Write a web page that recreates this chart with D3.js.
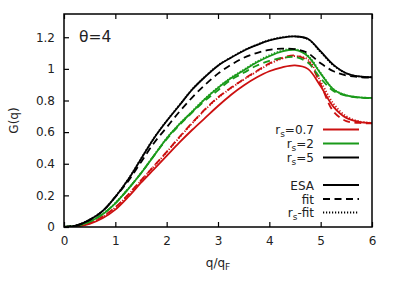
<!DOCTYPE html>
<html>
<head>
<meta charset="utf-8">
<script src="https://cdn.jsdelivr.net/npm/d3@7"></script>
<style>
  body { margin: 0; background: #fff; }
  text { font-family: "DejaVu Sans", sans-serif; fill: #222; }
</style>
</head>
<body>
<script>
var q = [0, 0.25, 0.5, 0.75, 1, 1.25, 1.5, 1.75, 2, 2.25, 2.5, 2.75, 3, 3.25, 3.5, 3.75, 4, 4.25, 4.5, 4.75, 5, 5.25, 5.5, 5.75, 6];

// rs = 5 (black)
var esa5   = [0, 0.01, 0.045, 0.1, 0.19, 0.3, 0.43, 0.56, 0.67, 0.77, 0.87, 0.95, 1.02, 1.07, 1.115, 1.15, 1.18, 1.198, 1.205, 1.19, 1.11, 1.025, 0.972, 0.952, 0.947];
var fit5   = [0, 0.01, 0.045, 0.1, 0.19, 0.29, 0.41, 0.53, 0.63, 0.73, 0.82, 0.9, 0.97, 1.025, 1.07, 1.1, 1.12, 1.128, 1.125, 1.1, 1.035, 0.985, 0.958, 0.948, 0.945];
var rsfit5 = [0, 0.011, 0.047, 0.102, 0.192, 0.302, 0.432, 0.562, 0.672, 0.772, 0.872, 0.952, 1.022, 1.072, 1.117, 1.152, 1.182, 1.2, 1.205, 1.188, 1.105, 1.022, 0.971, 0.952, 0.947];
// rs = 2 (green)
var esa2   = [0, 0.008, 0.033, 0.08, 0.15, 0.24, 0.34, 0.45, 0.56, 0.65, 0.73, 0.81, 0.88, 0.94, 0.99, 1.04, 1.08, 1.11, 1.12, 1.08, 0.97, 0.87, 0.832, 0.82, 0.816];
var fit2   = [0, 0.008, 0.033, 0.08, 0.15, 0.24, 0.34, 0.45, 0.555, 0.645, 0.725, 0.8, 0.865, 0.93, 0.975, 1.02, 1.05, 1.07, 1.075, 1.04, 0.94, 0.86, 0.83, 0.818, 0.815];
var rsfit2 = [0, 0.009, 0.035, 0.082, 0.152, 0.242, 0.342, 0.452, 0.562, 0.652, 0.733, 0.813, 0.883, 0.944, 0.995, 1.045, 1.086, 1.116, 1.125, 1.085, 0.975, 0.872, 0.833, 0.82, 0.816];
// rs = 0.7 (red)
var esa07   = [0, 0.004, 0.02, 0.055, 0.11, 0.19, 0.28, 0.365, 0.45, 0.535, 0.615, 0.69, 0.765, 0.835, 0.895, 0.945, 0.985, 1.01, 1.022, 1.0, 0.89, 0.76, 0.69, 0.665, 0.657];
var fit07   = [0, 0.005, 0.024, 0.065, 0.125, 0.205, 0.295, 0.385, 0.475, 0.57, 0.66, 0.745, 0.82, 0.88, 0.935, 0.985, 1.035, 1.07, 1.085, 1.05, 0.9, 0.73, 0.67, 0.658, 0.655];
var rsfit07 = [0, 0.005, 0.024, 0.064, 0.123, 0.203, 0.293, 0.383, 0.473, 0.567, 0.657, 0.742, 0.817, 0.877, 0.932, 0.982, 1.03, 1.065, 1.08, 1.06, 0.92, 0.78, 0.70, 0.668, 0.658];

var xTicks = [0, 1, 2, 3, 4, 5, 6];
var yTicks = [0, 0.2, 0.4, 0.6, 0.8, 1, 1.2];

var W = 395, H = 286,
    margin = {top: 14, right: 23, bottom: 59, left: 64},
    width = W - margin.left - margin.right,
    height = H - margin.top - margin.bottom;

var svg = d3.select("body").append("svg").attr("width", W).attr("height", H);
var g = svg.append("g").attr("transform", "translate(" + margin.left + "," + margin.top + ")");

var x = d3.scaleLinear().domain([0, 6]).range([0, width]),
    y = d3.scaleLinear().domain([0, 1.347]).range([height, 0]);

var red = "#cc1010", green = "#1a9a1a", black = "#000";
var styles = {
  solid: null,
  dash: "7,4.5",
  dot: "1.2,1.8"
};

var series = [
  {v: fit07, c: red, s: "dash"}, {v: rsfit07, c: red, s: "dot"}, {v: esa07, c: red, s: "solid"},
  {v: fit2, c: green, s: "dash"}, {v: rsfit2, c: green, s: "dot"}, {v: esa2, c: green, s: "solid"},
  {v: fit5, c: black, s: "dash"}, {v: rsfit5, c: black, s: "dot"}, {v: esa5, c: black, s: "solid"}
];

var line = d3.line()
    .curve(d3.curveCatmullRom.alpha(0.5))
    .x(function(d, i) { return x(q[i]); })
    .y(function(d) { return y(d); });

g.append("defs").append("clipPath").attr("id", "clip")
  .append("rect").attr("width", width).attr("height", height);

g.append("g").attr("clip-path", "url(#clip)")
  .selectAll("path").data(series).enter().append("path")
    .attr("fill", "none")
    .attr("stroke", function(d) { return d.c; })
    .attr("stroke-width", 1.8)
    .attr("stroke-dasharray", function(d) { return styles[d.s]; })
    .attr("d", function(d) { return line(d.v); });

// axes (ticks inward)
var xb = g.append("g").attr("transform", "translate(0," + height + ")")
    .call(d3.axisBottom(x).tickValues(xTicks).tickSizeInner(-5).tickSizeOuter(0).tickPadding(9).tickFormat(d3.format("d")));
var xt = g.append("g")
    .call(d3.axisTop(x).tickValues(xTicks).tickSizeInner(-5).tickSizeOuter(0).tickFormat(""));
var yl = g.append("g")
    .call(d3.axisLeft(y).tickValues(yTicks).tickSizeInner(-5).tickSizeOuter(0).tickPadding(9).tickFormat(function(d) { return d3.format("")(d); }));

[xb, xt, yl].forEach(function(a) {
  a.select(".domain").remove();
  a.selectAll("line").attr("stroke", "#000").attr("stroke-width", 1.2);
  a.selectAll("text").style("font-size", "12px").style("fill", "#222");
});

g.append("rect").attr("width", width).attr("height", height)
  .attr("fill", "none").attr("stroke", "#000").attr("stroke-width", 1.5);

// labels
g.append("text").attr("x", 15).attr("y", 28).style("font-size", "15.5px").text("θ=4");

svg.append("text")
  .attr("transform", "translate(18," + (margin.top + height / 2) + ") rotate(-90)")
  .attr("text-anchor", "middle").style("font-size", "12px").text("G(q)");

var xl = svg.append("text").attr("x", margin.left + width / 2).attr("y", 267)
  .attr("text-anchor", "middle").style("font-size", "12px");
xl.append("tspan").text("q/q");
xl.append("tspan").attr("dy", 3).style("font-size", "9px").text("F");

// legend
var legend = [
  {t: "0.7", c: red, s: "solid", yy: 129.5},
  {t: "2", c: green, s: "solid", yy: 143.5},
  {t: "5", c: black, s: "solid", yy: 157.5},
  {t: "ESA", c: black, s: "solid", yy: 185},
  {t: "fit", c: black, s: "dash", yy: 199},
  {t: "-fit", c: black, s: "dot", yy: 212.5}
];
var lg = svg.append("g");
legend.forEach(function(d, i) {
  var tx = lg.append("text").attr("x", 314).attr("y", d.yy + 4.5)
    .attr("text-anchor", "end").style("font-size", "12px");
  if (i < 3) {
    tx.append("tspan").text("r");
    tx.append("tspan").attr("dy", 3).style("font-size", "9px").text("s");
    tx.append("tspan").attr("dy", -3).text("=" + d.t);
  } else if (d.t === "-fit") {
    tx.append("tspan").text("r");
    tx.append("tspan").attr("dy", 3).style("font-size", "9px").text("s");
    tx.append("tspan").attr("dy", -3).text("-fit");
  } else {
    tx.text(d.t);
  }
  lg.append("line").attr("x1", 323).attr("x2", 359).attr("y1", d.yy).attr("y2", d.yy)
    .attr("stroke", d.c).attr("stroke-width", 1.8)
    .attr("stroke-dasharray", styles[d.s]);
});
</script>
</body>
</html>
